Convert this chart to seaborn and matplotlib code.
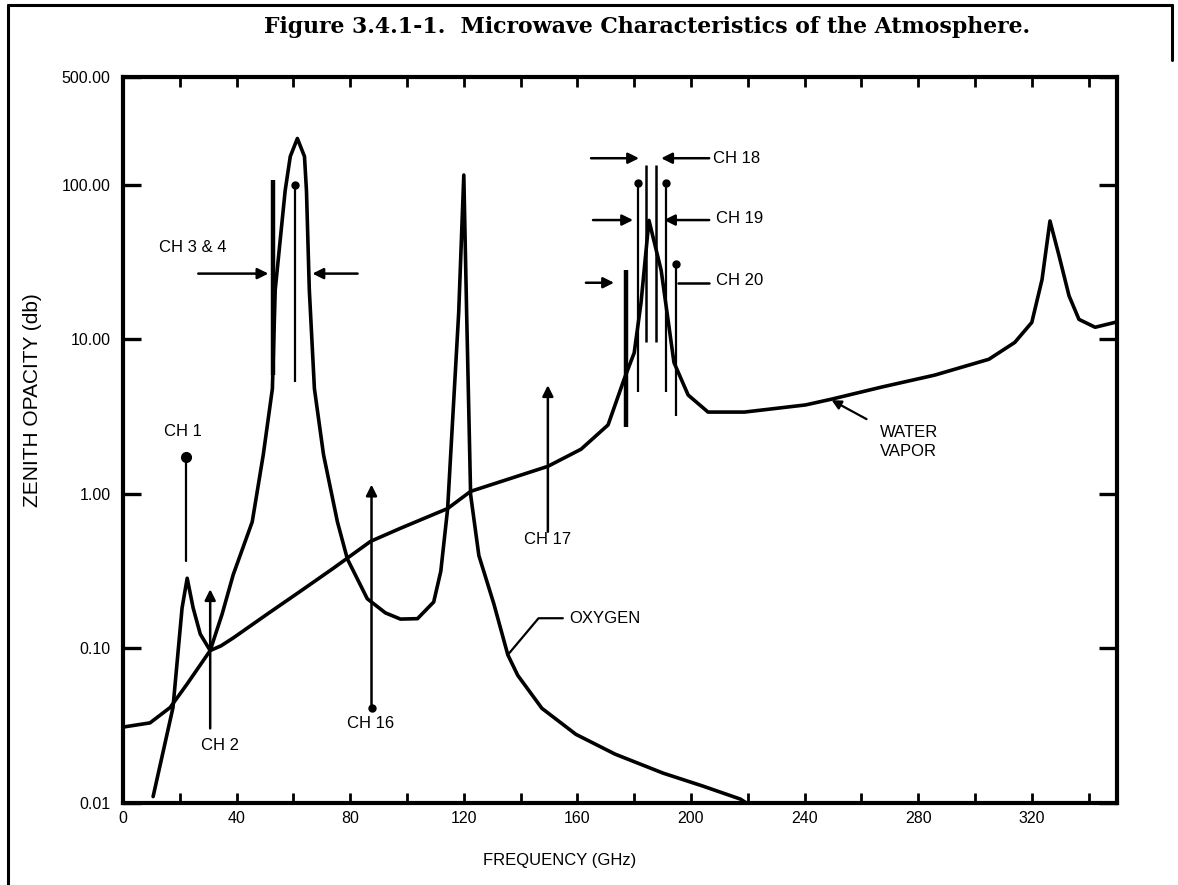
import matplotlib
matplotlib.use("Agg")
import matplotlib.pyplot as plt
from matplotlib.lines import Line2D
from matplotlib.ticker import NullLocator, FixedLocator, NullFormatter
import seaborn as sns
import pandas as pd

# ---------------- data ----------------
water_freq = [0, 9.5, 16.6, 22.6, 30.7, 34.5, 38.8, 50.8, 62.5, 74.1, 87.2, 97.7,
              114.3, 122.4, 149.6, 161.3, 170.8, 176.4, 180.0, 182.4, 185.2, 189.5,
              194.0, 199.0, 206.0, 218.8, 240.3, 249.5, 267.1, 285.8, 304.9, 314.0,
              320.0, 323.6, 326.4, 329.6, 333.1, 336.6, 342.3, 350.0]
water_opacity = [0.031, 0.033, 0.0415, 0.059, 0.097, 0.104, 0.117, 0.167, 0.235, 0.331,
                 0.494, 0.60, 0.805, 1.04, 1.51, 1.95, 2.8, 5.5, 8.2, 17.3, 59.0, 28.0,
                 7.1, 4.37, 3.39, 3.39, 3.77, 4.11, 4.92, 5.88, 7.45, 9.57, 12.9, 24.4,
                 58.5, 34.8, 19.2, 13.5, 12.0, 13.0]

oxygen_freq = [10.6, 17.6, 20.8, 22.6, 24.7, 27.2, 30.7, 34.9, 38.8, 45.5, 49.4, 52.6,
               53.6, 57.1, 58.9, 61.4, 63.9, 64.6, 65.6, 67.4, 70.6, 75.5, 79.0, 86.0,
               92.4, 97.7, 103.7, 109.4, 111.9, 114.3, 118.2, 120.0, 121.0, 122.4,
               125.3, 130.6, 135.5, 139.0, 147.5, 159.5, 173.3, 190.2, 204.0, 217.4,
               219.5]
oxygen_opacity = [0.011, 0.0415, 0.183, 0.285, 0.183, 0.124, 0.097, 0.167, 0.30, 0.66,
                  1.8, 4.8, 21.0, 92.0, 153.0, 200.0, 153.0, 92.0, 21.0, 4.8, 1.8, 0.66,
                  0.38, 0.21, 0.17, 0.155, 0.156, 0.20, 0.316, 0.80, 14.9, 116.0, 14.9,
                  0.99, 0.40, 0.194, 0.091, 0.067, 0.041, 0.0278, 0.0207, 0.0156, 0.0129,
                  0.0106, 0.010]

x_tick_values = [0, 40, 80, 120, 160, 200, 240, 280, 320]
x_tick_labels = ["0", "40", "80", "120", "160", "200", "240", "280", "320"]
x_minor_values = [20, 60, 100, 140, 180, 220, 260, 300, 340]
y_tick_values = [0.01, 0.1, 1, 10, 100, 500]
y_tick_labels = ["0.01", "0.10", "1.00", "10.00", "100.00", "500.00"]

# vertical channel bars: frequency, low and high opacity
bar_freq = [52.9, 60.7, 184.2, 187.7, 181.4, 191.2, 177.1, 194.8]
bar_low = [5.9, 5.3, 9.6, 9.6, 4.6, 4.6, 2.7, 3.2]
bar_high = [107.0, 100.0, 134.0, 134.0, 103.0, 103.0, 28.2, 31.0]

# single-channel vertical arrows
arrow_names = ["CH 2", "CH 16", "CH 17"]
arrow_freq = [30.7, 87.5, 149.6]
arrow_low = [0.0304, 0.0415, 0.57]
arrow_high = [0.242, 1.15, 5.06]

# CH 1 marker line
ch1_freq = [22.2]
ch1_low = [0.367]
ch1_high = [1.74]

# horizontal channel arrows: level, tail frequency, head frequency
harrow_level = [26.7, 26.7, 149.0, 149.0, 59.3, 59.3, 23.3]
harrow_from = [26.5, 82.6, 164.8, 206.4, 165.5, 206.4, 163.0]
harrow_to = [51.2, 66.7, 181.7, 189.5, 179.6, 190.5, 172.9]

# ---------------- styling ----------------
sns.set_theme(style="white")
plt.rcParams["font.family"] = ["Liberation Sans", "DejaVu Sans"]

fig = plt.figure(figsize=(11.78, 8.85), dpi=100)
ax = fig.add_axes([123 / 1178, 1 - 803 / 885, (1117 - 123) / 1178, (803 - 77) / 885])

ink = "black"
curves = pd.concat([
    pd.DataFrame({"freq": water_freq, "opacity": water_opacity, "gas": "WATER VAPOR"}),
    pd.DataFrame({"freq": oxygen_freq, "opacity": oxygen_opacity, "gas": "OXYGEN"}),
])
sns.lineplot(data=curves, x="freq", y="opacity", hue="gas",
             palette={"WATER VAPOR": ink, "OXYGEN": ink},
             estimator=None, sort=False, lw=2.6, legend=False, ax=ax)

ax.set_yscale("log")
ax.set_xlim(0, 350)
ax.set_ylim(0.01, 500)

# channel bars
bar_lw = [3.2, 1.6, 1.8, 1.8, 1.6, 1.6, 3.2, 1.6]
bar_dot = [False, True, False, False, True, True, False, True]
for f, lo, hi, lw, dot in zip(bar_freq, bar_low, bar_high, bar_lw, bar_dot):
    ax.plot([f, f], [lo, hi], color=ink, lw=lw, solid_capstyle="butt")
    if dot:
        ax.plot([f], [hi], marker="o", ms=5, color=ink)

# CH 1
for f, lo, hi in zip(ch1_freq, ch1_low, ch1_high):
    ax.plot([f, f], [lo, hi], color=ink, lw=1.6)
    ax.plot([f], [hi], marker="o", ms=7, color=ink)

# vertical arrows
for name, f, lo, hi in zip(arrow_names, arrow_freq, arrow_low, arrow_high):
    ax.annotate("", xy=(f, hi), xytext=(f, lo),
                arrowprops=dict(arrowstyle="-|>", color=ink, lw=1.8,
                                mutation_scale=16, shrinkA=0, shrinkB=0))
ax.plot([arrow_freq[1]], [arrow_low[1]], marker="o", ms=5, color=ink)

# horizontal arrows
for lvl, f0, f1 in zip(harrow_level, harrow_from, harrow_to):
    ax.annotate("", xy=(f1, lvl), xytext=(f0, lvl),
                arrowprops=dict(arrowstyle="-|>", color=ink, lw=1.8,
                                mutation_scale=16, shrinkA=0, shrinkB=0))
# CH 20 right-hand plain leader
ax.plot([195.5, 206.4], [23.3, 23.3], color=ink, lw=1.8)

# labels
lab = dict(fontsize=12, color=ink)
ax.text(21.1, 2.52, "CH 1", ha="center", va="center", **lab)
ax.text(34.2, 0.0236, "CH 2", ha="center", va="center", **lab)
ax.text(87.2, 0.0327, "CH 16", ha="center", va="center", **lab)
ax.text(149.6, 0.508, "CH 17", ha="center", va="center", **lab)
ax.text(24.7, 39.2, "CH 3 & 4", ha="center", va="center", **lab)
ax.text(207.8, 149, "CH 18", ha="left", va="center", **lab)
ax.text(208.9, 61, "CH 19", ha="left", va="center", **lab)
ax.text(208.9, 24, "CH 20", ha="left", va="center", **lab)

ax.annotate("OXYGEN", xy=(135.5, 0.091), xytext=(157, 0.157), ha="left", va="center",
            arrowprops=dict(arrowstyle="-", color=ink, lw=1.6, shrinkA=2, shrinkB=0,
                            connectionstyle="angle,angleA=0,angleB=50,rad=0"), **lab)
ax.annotate("WATER\nVAPOR", xy=(249.5, 4.05), xytext=(266.4, 2.17), ha="left", va="center",
            linespacing=1.35,
            arrowprops=dict(arrowstyle="-|>", color=ink, lw=1.6, mutation_scale=14,
                            shrinkA=8, shrinkB=0), **lab)

# axes styling
for s in ax.spines.values():
    s.set_linewidth(3.0)
    s.set_color(ink)
    s.set_visible(True)

ax.xaxis.set_major_locator(FixedLocator(x_tick_values))
ax.set_xticklabels(x_tick_labels)
ax.xaxis.set_minor_locator(FixedLocator(x_minor_values))
ax.xaxis.set_minor_formatter(NullFormatter())
ax.yaxis.set_major_locator(FixedLocator(y_tick_values))
ax.set_yticklabels(y_tick_labels)
ax.yaxis.set_minor_locator(NullLocator())

ax.tick_params(axis="x", which="both", direction="in", length=7, width=2.0,
               top=True, bottom=True, labelsize=11.5, pad=6, colors=ink)
ax.tick_params(axis="y", which="major", direction="in", length=13, width=2.4,
               left=True, right=True, labelsize=11.5, pad=9, colors=ink)

ax.set_xlabel("")
ax.set_ylabel("")
fig.text(560 / 1178, 1 - 860 / 885, "FREQUENCY (GHz)", ha="center", va="center",
         fontsize=12, color=ink)
fig.text(33 / 1178, 1 - 400 / 885, "ZENITH OPACITY (db)", ha="center", va="center",
         rotation=90, fontsize=15, color=ink)

fig.text(647 / 1178, 1 - 27 / 885,
         "Figure 3.4.1-1.  Microwave Characteristics of the Atmosphere.",
         ha="center", va="center", fontsize=15.8, fontweight="heavy",
         family=["DejaVu Serif"], color=ink)

# page frame
fig.add_artist(Line2D([8 / 1178, 8 / 1178], [0, 1 - 5 / 885], transform=fig.transFigure,
                      color=ink, lw=2.2))
fig.add_artist(Line2D([8 / 1178, 1172 / 1178], [1 - 5 / 885, 1 - 5 / 885],
                      transform=fig.transFigure, color=ink, lw=2.2))
fig.add_artist(Line2D([1172 / 1178, 1172 / 1178], [1 - 5 / 885, 1 - 60 / 885],
                      transform=fig.transFigure, color=ink, lw=2.2))

fig.savefig("out.png", dpi=100, facecolor="white")
